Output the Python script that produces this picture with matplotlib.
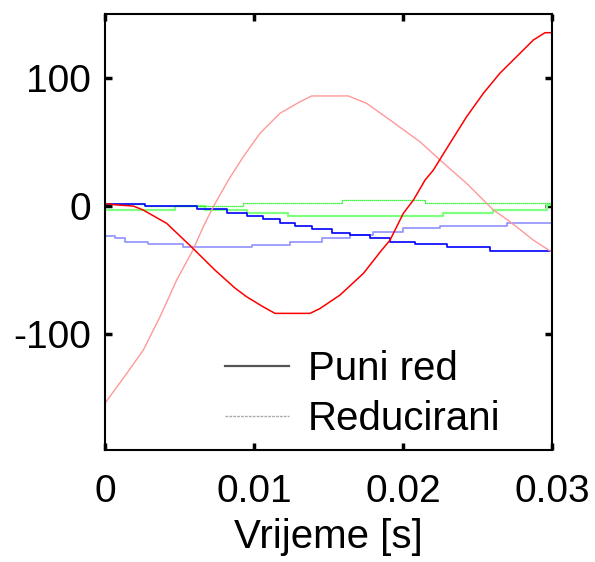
import matplotlib
matplotlib.use('Agg')
import matplotlib.pyplot as plt
from matplotlib.lines import Line2D

plt.rcParams['font.family'] = ['Liberation Sans', 'DejaVu Sans']
plt.rcParams['axes.unicode_minus'] = False

# Puni red - phase A (red)
t_red_full = [0, 0.00067, 0.0019, 0.00255, 0.00414, 0.0059, 0.00738, 0.00872, 0.0095,
              0.0106, 0.01141, 0.01376, 0.01443, 0.01577, 0.01734, 0.01857, 0.01913,
              0.02002, 0.0207, 0.02148, 0.02203, 0.02315, 0.02427, 0.02539, 0.0265,
              0.02875, 0.02953, 0.03]
v_red_full = [2, 1, 0, -3, -13.5, -33, -50, -64, -70.8, -78.6, -83.8, -83.8, -80, -69.5,
              -52.6, -34.4, -26.6, -5.7, 4.7, 20.3, 28, 49, 69.8, 88, 103.7, 129.7, 135.4, 135.4]

# Reducirani - phase A (light red)
t_red_red = [0, 0.00146, 0.00257, 0.00369, 0.00481, 0.0059, 0.0066, 0.00727, 0.00828,
             0.00928, 0.0104, 0.01174, 0.01309, 0.01387, 0.01633, 0.01756, 0.01913,
             0.02114, 0.02248, 0.02427, 0.02606, 0.02718, 0.02875, 0.02987, 0.03]
v_red_red = [-154, -130.7, -112.5, -86.5, -57.8, -34.4, -16, -0.5, 20.3, 38.5, 56.8, 72.4,
             81.5, 86, 86, 80.2, 67.2, 50.2, 36, 17.7, -3, -12.2, -26.6, -35, -36]

# Puni red - phase B (blue), stepwise
t_blue_full = [0, 0.00268, 0.00617, 0.00819, 0.00953, 0.0106, 0.01174, 0.01275, 0.01389,
               0.01523, 0.01644, 0.01779, 0.01913, 0.02081, 0.02295, 0.02584, 0.03]
v_blue_full = [2, 0, -2.6, -5.2, -7.8, -10.4, -13, -15.6, -18.2, -20.8, -22.7, -25.3,
               -27.9, -29.7, -31.8, -35, -35]

# Reducirani - phase B (light blue), stepwise
t_blue_red = [0, 0.00067, 0.00134, 0.00289, 0.00523, 0.00987, 0.01242, 0.01456, 0.01644,
              0.01799, 0.02001, 0.02249, 0.02698, 0.03]
v_blue_red = [-23.4, -25.3, -27.9, -29.7, -32.3, -30.5, -27.9, -25.3, -22.7, -20.3,
              -17.5, -15.2, -13, -13]

# Puni red - phase C (green), stepwise
t_green_full = [0, 0.00268, 0.00926, 0.01591, 0.02148, 0.03]
v_green_full = [2, 0, 2.3, 4.5, 2.3, 2.3]

# Reducirani - phase C (light green), stepwise
t_green_red = [0, 0.00470, 0.00671, 0.00953, 0.01228, 0.02268, 0.02604, 0.02966, 0.03]
v_green_red = [-3, 0, -3, -5.2, -7.8, -5.7, -3, 0.8, 0.8]

legend_labels = ['Puni red', 'Reducirani']
x_ticks = [0, 0.01, 0.02, 0.03]
x_tick_labels = ['0', '0.01', '0.02', '0.03']
y_ticks = [-100, 0, 100]

fig = plt.figure(figsize=(5.95, 5.62), dpi=100)
ax = fig.add_axes([105 / 595, 1 - 450 / 562, 447 / 595, 436 / 562])

ax.plot(t_green_red, v_green_red, color='#80ff80', lw=1.6, drawstyle='steps-post')
ax.plot(t_green_full, v_green_full, color='#00ee00', lw=0.9, ls=(0, (1, 0.6)), drawstyle='steps-post')
ax.plot(t_blue_red, v_blue_red, color='#9090ff', lw=1.2, drawstyle='steps-post')
ax.plot(t_blue_full, v_blue_full, color='#0000ff', lw=1.2, drawstyle='steps-post')
ax.plot(t_red_red, v_red_red, color='#ff9999', lw=1.0)
ax.plot(t_red_full, v_red_full, color='#ff0000', lw=1.1)

ax.set_xlim(0, 0.03)
ax.set_ylim(-190.5, 150)
ax.set_xticks(x_ticks)
ax.set_xticklabels(x_tick_labels)
ax.set_yticks(y_ticks)
ax.tick_params(direction='in', length=5, width=2.5, top=True, right=True, labelsize=28)
ax.tick_params(axis='y', pad=10)
ax.tick_params(axis='x', pad=17)
for s in ax.spines.values():
    s.set_linewidth(1.5)
ax.set_xlabel('Vrijeme [s]', fontsize=29, labelpad=6)

handles = [Line2D([], [], color='#555555', lw=1.6),
           Line2D([], [], color='#aaaaaa', lw=1.0, ls=(0, (2, 0.8)))]
ax.legend(handles, legend_labels, loc='center left', bbox_to_anchor=(0.2685, 0.128),
          frameon=False, fontsize=29, handlelength=1.6, handletextpad=0.45,
          borderpad=0, borderaxespad=0, labelspacing=0.3)

fig.savefig('out.png', dpi=100)
